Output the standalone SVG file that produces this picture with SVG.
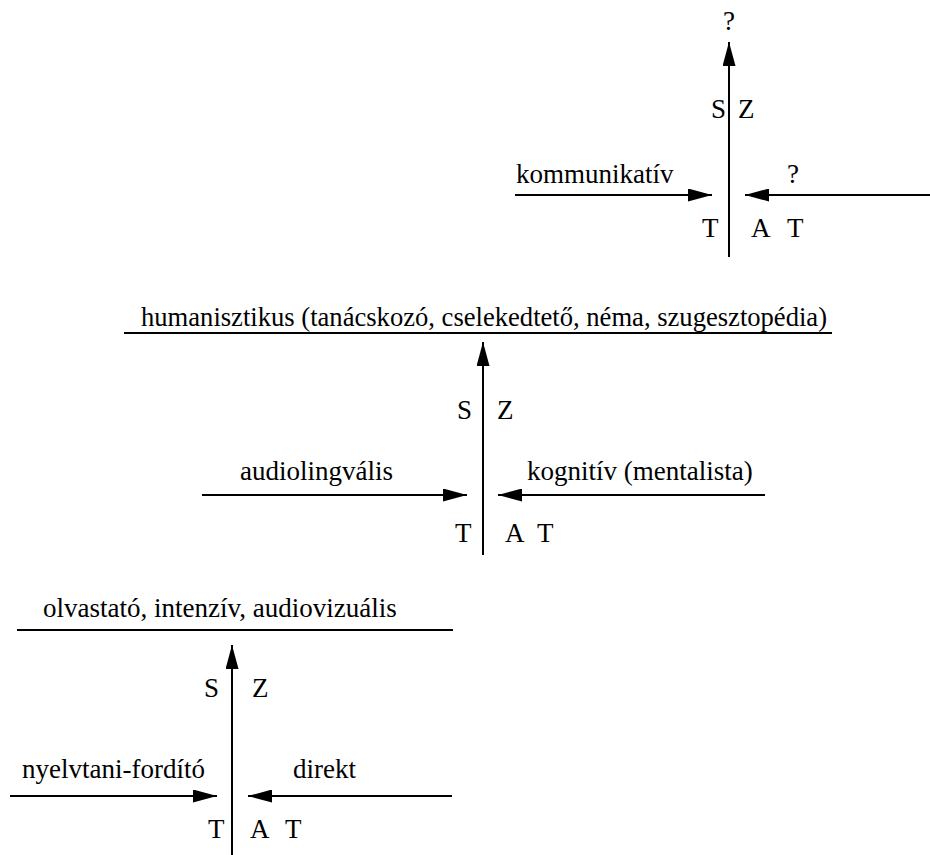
<svg xmlns="http://www.w3.org/2000/svg" width="930" height="855" viewBox="0 0 930 855">
<style>
text { font-family: "Liberation Serif", "Times New Roman", serif; font-size: 27px; fill: #000; }
.ln { stroke: #000; stroke-width: 2; fill: none; }
.arr { stroke: #000; stroke-width: 2; fill: none; marker-end: url(#ah); }
</style>
<defs>
<marker id="ah" markerUnits="userSpaceOnUse" markerWidth="24" markerHeight="13" refX="24" refY="6.5" orient="auto">
<path d="M0,0 L24,6.5 L0,13 z" fill="#000"/>
</marker>
</defs>
<rect width="930" height="855" fill="#fff"/>

<g id="connectors">
<!-- top -->
<line class="arr" x1="729" y1="257" x2="729" y2="42"/>
<line class="arr" x1="515" y1="195" x2="712" y2="195"/>
<line class="arr" x1="930" y1="195" x2="745" y2="195"/>
<!-- middle -->
<line class="ln" x1="124" y1="333" x2="832" y2="333"/>
<line class="arr" x1="483" y1="555" x2="483" y2="342"/>
<line class="arr" x1="202" y1="495" x2="467" y2="495"/>
<line class="arr" x1="765" y1="495" x2="498" y2="495"/>
<!-- bottom -->
<line class="ln" x1="17" y1="630" x2="453" y2="630"/>
<line class="arr" x1="232" y1="855" x2="232" y2="645"/>
<line class="arr" x1="10" y1="796" x2="217" y2="796"/>
<line class="arr" x1="452" y1="796" x2="248" y2="796"/>
</g>

<g id="top">
<text x="729" y="30" text-anchor="middle">?</text>
<text x="711" y="118">S</text>
<text x="738" y="118">Z</text>
<text x="516" y="183">kommunikatív</text>
<text x="793" y="183" text-anchor="middle">?</text>
<text x="702" y="237">T</text>
<text x="751" y="237">A</text>
<text x="787" y="237">T</text>
</g>

<g id="middle">
<text x="141" y="326" style="font-size:26.6px">humanisztikus (tanácskozó, cselekedtető, néma, szugesztopédia)</text>
<text x="457" y="419">S</text>
<text x="497" y="419">Z</text>
<text x="240" y="480">audiolingvális</text>
<text x="527" y="480">kognitív (mentalista)</text>
<text x="455" y="542">T</text>
<text x="505" y="542">A</text>
<text x="537" y="542">T</text>
</g>

<g id="bottom">
<text x="43" y="617">olvastató, intenzív, audiovizuális</text>
<text x="204" y="697">S</text>
<text x="252" y="697">Z</text>
<text x="22" y="778">nyelvtani-fordító</text>
<text x="293" y="778">direkt</text>
<text x="208" y="838">T</text>
<text x="250" y="838">A</text>
<text x="285" y="838">T</text>
</g>
</svg>
